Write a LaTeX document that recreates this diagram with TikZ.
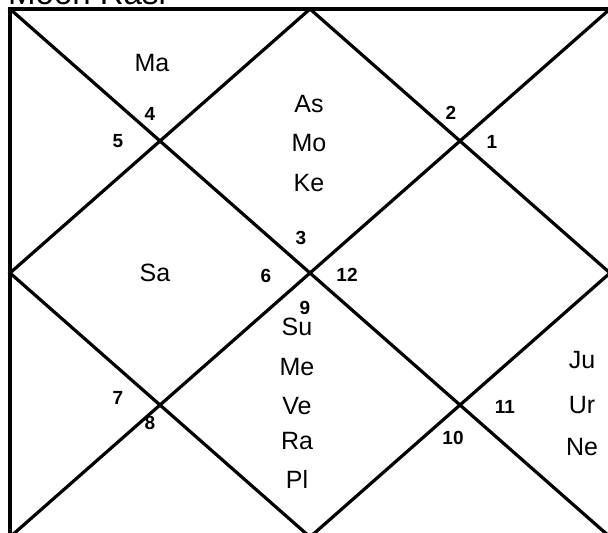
\documentclass[tikz,border=0pt]{standalone}
\usepackage{fontspec}
\setmainfont{Liberation Sans}
\begin{document}
\begin{tikzpicture}[x=1pt,y=-1pt,
  chartline/.style={line width=3.2pt, line cap=rect, line join=miter},
  planet/.style={font=\fontsize{25}{25}\selectfont, inner sep=0pt, anchor=center},
  housenum/.style={font=\fontsize{19}{19}\selectfont\bfseries, inner sep=0pt, anchor=center}]
\useasboundingbox (0,0) rectangle (608,533);
\begin{scope}
\clip (0,0) rectangle (608,533);
\coordinate (TL) at (10,9);
\coordinate (TR) at (610,9);
\coordinate (BL) at (10,537);
\coordinate (BR) at (610,537);
\coordinate (TM) at (310,9);
\coordinate (RM) at (610,273);
\coordinate (BM) at (310,537);
\coordinate (LM) at (10,273);
\draw[chartline] (TL) -- (TR) -- (BR) -- (BL) -- cycle;
\draw[chartline] (TL) -- (BR);
\draw[chartline] (TR) -- (BL);
\draw[chartline] (TM) -- (RM) -- (BM) -- (LM) -- cycle;
\node[anchor=base west, inner sep=0pt, font=\fontsize{33}{33}\selectfont] (title) at (8,4) {Moon Rasi};
\end{scope}
% planets
\node[planet] (ma) at (152,63) {Ma};
\node[planet] (as) at (309,104) {As};
\node[planet] (mo) at (309,143) {Mo};
\node[planet] (ke) at (309,183) {Ke};
\node[planet] (sa) at (155,273) {Sa};
\node[planet] (su) at (297,327) {Su};
\node[planet] (me) at (297,367) {Me};
\node[planet] (ve) at (297,406) {Ve};
\node[planet] (ra) at (297,441) {Ra};
\node[planet] (pl) at (297,479) {Pl};
\node[planet] (ju) at (582,360) {Ju};
\node[planet] (ur) at (582,405) {Ur};
\node[planet] (ne) at (582,447) {Ne};
% house numbers
\node[housenum] (h4) at (150,114) {4};
\node[housenum] (h5) at (118,141) {5};
\node[housenum] (h2) at (451,113) {2};
\node[housenum] (h1) at (492,142) {1};
\node[housenum] (h3) at (301,238) {3};
\node[housenum] (h6) at (266,276) {6};
\node[housenum] (h12) at (347,275) {12};
\node[housenum] (h9) at (305,308) {9};
\node[housenum] (h7) at (118,398) {7};
\node[housenum] (h8) at (150,423) {8};
\node[housenum] (h11) at (505,407) {11};
\node[housenum] (h10) at (453,438) {10};
\end{tikzpicture}
\end{document}
